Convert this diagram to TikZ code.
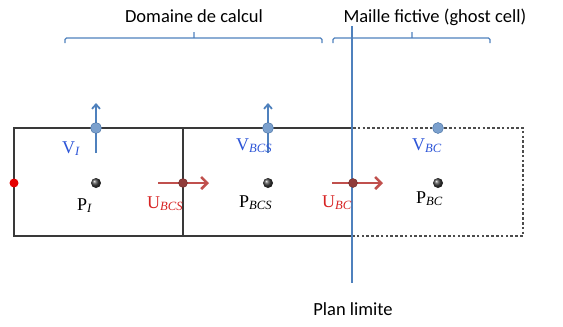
\documentclass[tikz,border=0pt]{standalone}
\usepackage{fontspec}
\setmainfont{Liberation Serif}
\newfontfamily\capfont{Carlito}
\usepackage{tikz}
\usetikzlibrary{arrows.meta}
\definecolor{planblue}{RGB}{79,129,189}
\definecolor{labblue}{RGB}{45,85,215}
\definecolor{labred}{RGB}{215,35,35}
\definecolor{arrred}{RGB}{192,80,77}
\newcommand{\lab}[2]{#1\textsubscript{\itshape #2}}

\begin{document}
\begin{tikzpicture}[
  x=1pt,y=-1pt,
  font=\fontsize{18}{21}\selectfont,
  cellline/.style={draw=gray!45!black,line width=1.2pt},
  ghostline/.style={draw=gray!60!black,line width=1.2pt,dash pattern=on 2.6pt off 2.2pt},
  brace/.style={draw=planblue,line width=1.2pt,rounded corners=1.5pt},
  caption/.style={font=\capfont\fontsize{18.5}{22}\selectfont,anchor=base},
  pdot/.style={circle,inner sep=0pt,minimum size=10pt,ball color=black!75},
  vdot/.style={circle,inner sep=0pt,minimum size=11pt,fill=planblue!75!white,draw=planblue!85!black,line width=0.4pt},
  udot/.style={circle,inner sep=0pt,minimum size=9pt,fill=arrred!75!black,draw=arrred!55!black,line width=0.4pt},
  wall/.style={circle,inner sep=0pt,minimum size=9pt,fill=red!90!black},
  vlab/.style={text=labblue,anchor=base west,inner sep=0pt},
  ulab/.style={text=labred,anchor=base west,inner sep=0pt},
  plab/.style={text=black,anchor=base west,inner sep=0pt},
  varrow/.style={-{Straight Barb[length=4.5pt,width=8pt]},draw=planblue,line width=1.8pt},
  uarrow/.style={-{Straight Barb[length=6pt,width=12pt]},draw=arrred,line width=2.6pt}
]
\useasboundingbox (0,0) rectangle (563,327);

% cells of the domain and the ghost cell
\draw[cellline] (183,128) -| (14,236) -- (183,236);
\draw[cellline] (183,128) -- (353,128) (183,236) -- (353,236) (183,128) -- (183,236);
\draw[ghostline] (353,128) -| (523,236) -- (353,236);

% braces over the two zones
\draw[brace] (65,43) -- (65,38) -- (322,38) -- (322,43) (194,38) -- (194,32);
\draw[brace] (333,43) -- (333,38) -- (490,38) -- (490,43) (412,38) -- (412,32);
\node[caption] (dom) at (194,22) {Domaine de calcul};
\node[caption,anchor=base west] (ghost) at (340,22) {Maille fictive (ghost cell)};

% boundary plane
\coordinate (plantop) at (352,26);
\coordinate (planbot) at (352,283);
\draw[draw=planblue,line width=1.6pt] (plantop) -- (planbot);
\node[caption] (plan) at (353,315) {Plan limite};

% pressure points
\node[pdot] (pI) at (96,183) {};
\node[pdot] (pBCS) at (268,183) {};
\node[pdot] (pBC) at (438,183) {};
\node[wall] (wall) at (14,183) {};

% vertical velocities
\coordinate (vIs) at (96,153);
\coordinate (vIe) at (96,103);
\coordinate (vBCSs) at (268,153);
\coordinate (vBCSe) at (268,103);
\draw[varrow] (vIs) -- (vIe);
\draw[varrow] (vBCSs) -- (vBCSe);
\node[vdot] (vI) at (96,128) {};
\node[vdot] (vBCS) at (268,128) {};
\node[vdot] (vBC) at (438,128) {};

% horizontal velocities
\coordinate (uBCSs) at (158,183);
\coordinate (uBCSe) at (209,183);
\coordinate (uBCs) at (332,183);
\coordinate (uBCe) at (383,183);
\draw[uarrow] (uBCSs) -- (uBCSe);
\draw[uarrow] (uBCs) -- (uBCe);
\node[udot] (uBCS) at (183,183) {};
\node[udot] (uBC) at (353,183) {};

% labels
\node[vlab] (labVI) at (62,153) {\lab{V}{I}};
\node[vlab] (labVBCS) at (236,150) {\lab{V}{BCS}};
\node[vlab] (labVBC) at (412,150) {\lab{V}{BC}};
\node[ulab] (labUBCS) at (147,208) {\lab{U}{BCS}};
\node[ulab] (labUBC) at (322,207) {\lab{U}{BC}};
\node[plab] (labPI) at (77,210) {\lab{P}{I}};
\node[plab] (labPBCS) at (239,207) {\lab{P}{BCS}};
\node[plab] (labPBC) at (416,203) {\lab{P}{BC}};
\end{tikzpicture}
\end{document}
